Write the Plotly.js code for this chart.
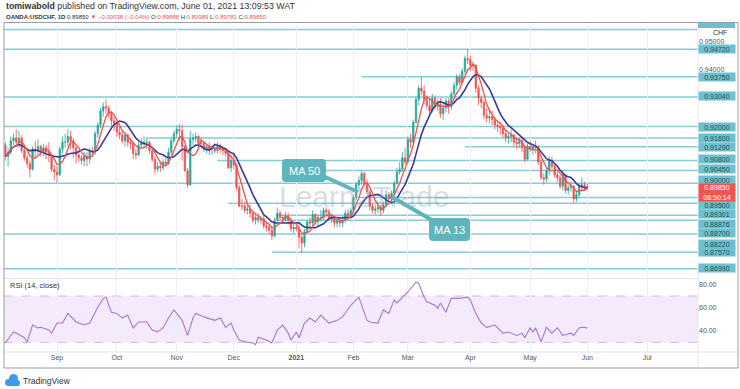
<!DOCTYPE html>
<html><head><meta charset="utf-8">
<script src="https://cdn.plot.ly/plotly-3.0.1.min.js"></script>
<style>html,body{margin:0;padding:0;background:#fff}#chart{width:740px;height:389px}</style>
</head><body><div id="chart"></div>
<script>
// ---------- DATA ----------
const firstDate = '2020-08-05';   // first daily bar (weekdays only)
const firstOpen = 0.9135;
const closes = [
 .9095,.9110,.9150,
 .9160,.9145,.9160,.9115,.9090,
 .9070,.9050,.9120,.9115,.9130,
 .9110,.9125,.9110,.9100,.9050,
 .9040,.9030,.9120,.9145,.9145,
 .9165,.9150,.9125,.9100,.9090,
 .9080,.9095,.9085,.9115,.9110,
 .9175,.9205,.9255,.9270,.9265,
 .9245,.9220,.9210,.9180,.9170,
 .9150,.9170,.9145,.9140,.9105,
 .9100,.9135,.9140,.9145,.9145,
 .9115,.9085,.9050,.9060,.9055,
 .9075,.9070,.9110,.9150,.9175,
 .9190,.9185,.9130,.9045,.8995,
 .9155,.9160,.9165,.9140,.9140,
 .9120,.9130,.9120,.9125,.9115,
 .9130,.9120,.9115,.9105,.9055,
 .9080,.9065,.8985,.8920,.8920,
 .8905,.8910,.8895,.8870,.8880,
 .8870,.8875,.8850,.8845,.8835,
 .8815,.8870,.8895,.8880,.8875,
 .8885,.8870,.8840,.8845,.8840,
 .8810,.8790,.8830,.8865,.8860,
 .8890,.8865,.8880,.8880,.8905,
 .8900,.8880,.8875,.8860,.8870,
 .8860,.8870,.8895,.8885,.8905,
 .8950,.8995,.9010,.9035,.9000,
 .8970,.8920,.8905,.8910,.8915,
 .8905,.8925,.8960,.8945,.8965,
 .9000,.9040,.9050,.9090,.9075,
 .9155,.9145,.9215,.9295,.9335,
 .9325,.9295,.9275,.9255,.9300,
 .9270,.9280,.9245,.9265,.9290,
 .9270,.9315,.9345,.9375,.9355,
 .9395,.9440,.9435,.9415,.9415,
 .9335,.9300,.9285,.9240,.9230,
 .9235,.9225,.9205,.9200,.9195,
 .9175,.9160,.9165,.9170,.9145,
 .9140,.9150,.9125,.9085,.9130,
 .9120,.9130,.9125,.9075,.9020,
 .9015,.9045,.9080,.9060,.9030,
 .9020,.8990,.9030,.8975,.8985,
 .8990,.8945,.8960,.8990,.8995,
 .89888,.89850
];
const highs = [
 .9145,.9125,.9165,
 .9175,.9190,.9185,.9170,.9125,
 .9100,.9080,.9130,.9150,.9155,
 .9135,.9140,.9135,.9145,.9105,
 .9065,.9060,.9130,.9165,.9175,
 .9190,.9185,.9160,.9130,.9115,
 .9100,.9110,.9110,.9125,.9130,
 .9185,.9215,.9265,.9285,.9295,
 .9275,.9255,.9235,.9220,.9200,
 .9185,.9180,.9175,.9160,.9145,
 .9120,.9145,.9160,.9165,.9160,
 .9150,.9125,.9095,.9075,.9080,
 .9085,.9090,.9125,.9160,.9185,
 .9205,.9210,.9207,.9135,.9055,
 .9185,.9175,.9180,.9170,.9160,
 .9150,.9140,.9145,.9135,.9130,
 .9145,.9140,.9130,.9120,.9110,
 .9100,.9110,.9070,.8995,.8945,
 .8935,.8930,.8925,.8900,.8895,
 .8895,.8885,.8890,.8865,.8860,
 .8850,.8880,.8915,.8905,.8890,
 .8900,.8895,.8880,.8860,.8850,
 .8855,.8825,.8840,.8870,.8880,
 .8905,.8895,.8890,.8905,.8915,
 .8915,.8910,.8895,.8885,.8880,
 .8880,.8885,.8905,.8910,.8915,
 .8960,.9005,.9025,.9045,.9040,
 .9015,.8975,.8930,.8925,.8935,
 .8925,.8935,.8975,.8970,.8975,
 .9010,.9055,.9075,.9110,.9125,
 .9165,.9175,.9225,.9305,.9345,
 .9375,.9345,.9310,.9300,.9315,
 .9310,.9295,.9300,.9280,.9300,
 .9300,.9325,.9355,.9385,.9385,
 .9405,.9450,.9473,.9450,.9430,
 .9420,.9345,.9310,.9295,.9265,
 .9255,.9255,.9235,.9215,.9215,
 .9205,.9190,.9180,.9190,.9175,
 .9160,.9160,.9165,.9135,.9140,
 .9150,.9140,.9150,.9135,.9085,
 .9035,.9055,.9095,.9095,.9070,
 .9040,.9030,.9045,.9035,.8995,
 .9005,.8995,.8975,.9000,.9020,
 .9005,.89989
];
const lows = [
 .9080,.9060,.9100,
 .9135,.9130,.9125,.9105,.9080,
 .9055,.9020,.9045,.9090,.9100,
 .9095,.9095,.9085,.9075,.9040,
 .9010,.9000,.9025,.9105,.9125,
 .9130,.9120,.9090,.9070,.9075,
 .9065,.9060,.9060,.9070,.9090,
 .9100,.9160,.9195,.9235,.9245,
 .9230,.9200,.9185,.9165,.9155,
 .9140,.9130,.9130,.9120,.9085,
 .9085,.9095,.9120,.9125,.9120,
 .9105,.9075,.9035,.9040,.9040,
 .9045,.9060,.9065,.9100,.9140,
 .9160,.9150,.9080,.9040,.8985,
 .8990,.9135,.9145,.9125,.9125,
 .9110,.9105,.9100,.9100,.9105,
 .9105,.9105,.9100,.9095,.9050,
 .9040,.9050,.8975,.8915,.8905,
 .8895,.8890,.8880,.8860,.8855,
 .8860,.8855,.8840,.8830,.8820,
 .8800,.8810,.8865,.8870,.8865,
 .8865,.8855,.8830,.8825,.8830,
 .8770,.8757,.8775,.8825,.8840,
 .8850,.8855,.8850,.8865,.8870,
 .8885,.8870,.8860,.8845,.8845,
 .8845,.8845,.8860,.8870,.8875,
 .8895,.8940,.8980,.8995,.8990,
 .8960,.8905,.8895,.8890,.8895,
 .8885,.8895,.8915,.8935,.8935,
 .8955,.8995,.9030,.9040,.9065,
 .9070,.9125,.9140,.9210,.9275,
 .9310,.9280,.9260,.9240,.9250,
 .9260,.9255,.9230,.9225,.9250,
 .9245,.9260,.9300,.9330,.9345,
 .9350,.9385,.9420,.9395,.9395,
 .9320,.9275,.9265,.9225,.9215,
 .9210,.9205,.9190,.9180,.9170,
 .9160,.9145,.9140,.9145,.9130,
 .9120,.9125,.9110,.9075,.9080,
 .9110,.9100,.9105,.9065,.9010,
 .8995,.9005,.9030,.9050,.9020,
 .9005,.8980,.8975,.8965,.8960,
 .8970,.8930,.8935,.8950,.8970,
 .8975,.89781
];
// RSI (14, close): bar index -> value
const rsiIdx = [0,3,4,7,8,10,12,13,16,17,19,21,23,26,29,31,34,36,37,39,41,43,45,47,49,52,54,56,58,60,62,65,67,69,70,73,77,79,81,83,84,86,88,91,92,93,96,98,100,102,104,105,107,108,110,112,114,116,119,122,124,127,130,132,133,134,137,139,141,143,144,148,151,152,154,155,158,159,160,162,164,167,170,171,173,175,177,180,183,185,188,190,191,193,194,195,197,199,201,203,205,208,209,211,212,214];
const rsiVal = [29.5,39,38,34,30.5,45,42.5,43,40.7,38,46.7,46.7,55,47.6,45,46.7,60.5,68,69,56,55,51,53.6,42.5,47.6,47.6,40.7,39,42.5,51,58,49,36,51,55,52,49,51,43,46.7,40.7,32,30.5,29.5,28,34.5,32,29.5,40.7,45,38,32,39,34,46.7,51,47.6,53.6,46.7,49,52,62,69,55,49,47.6,46.7,58,55,66.5,64,73.5,82,81,69,65,62,59.5,64,56,68,68,69,66.5,55,46.7,43,45,38,39,36,38,34,42.5,39,42.5,30.5,43,38,42.5,36,38,36,42.5,43,42.5];
const maFastLen = 5, maSlowLen = 10;
// horizontal support / resistance levels drawn on the chart
const levelPrices = [0.9542,0.9472,0.9375,0.9304,0.9200,0.9160,0.9129,0.9080,0.9045,0.9000,0.8950,0.89301,0.88876,0.8870,0.8822,0.8757,0.8699];
const levelLabels = ['','0.94720','0.93750','0.93040','0.92000','0.91600','0.91290','0.90800','0.90450','0.90000','0.89500','0.89301','0.88876','0.88700','0.88220','0.87570','0.86990'];
const levelStart  = ['2020-08-04','2020-08-04','2021-02-04','2020-08-04','2020-08-04','2020-10-16','2021-03-30','2020-11-23','2020-12-29','2020-08-04','2021-02-03','2020-11-27','2020-12-23','2020-12-23','2020-08-04','2020-12-21','2020-08-04'];
const lastPrice = 0.89850, lastPriceLabel = '0.89850', countdown = '08:50:14';
const monthTicks  = ['2020-09-01','2020-10-01','2020-11-02','2020-12-01','2021-01-01','2021-02-01','2021-03-01','2021-04-01','2021-05-03','2021-06-01','2021-07-01'];
const monthLabels = ['Sep','Oct','Nov','Dec','<b>2021</b>','Feb','Mar','Apr','May','Jun','Jul'];
const priceTicks = [0.94,0.95];
const rsiTicks = [40,60,80];

// ---------- derived ----------
const dates = [];
{ let d = new Date(firstDate+'T00:00:00Z');
  while (dates.length < closes.length) {
    const wd = d.getUTCDay();
    if (wd !== 0 && wd !== 6) dates.push(d.toISOString().slice(0,10));
    d = new Date(d.getTime()+86400000);
  } }
const opens = closes.map((c,i)=> i===0 ? firstOpen : closes[i-1]);
function sma(a,n){ return a.map((_,i)=>{ const s=Math.max(0,i-n+1); let t=0; for(let k=s;k<=i;k++) t+=a[k]; return t/(i-s+1); }); }
const maFast = sma(closes, maFastLen), maSlow = sma(closes, maSlowLen);

// ---------- layout helpers (pixel -> paper) ----------
const W=740,H=389;
const fx = x => x/W, fy = y => 1-y/H;
const P = (x,y) => fx(x).toFixed(5)+' '+fy(y).toFixed(5);
function roundRect(x0,y0,x1,y1,r){
  return `M ${P(x0+r,y0)} L ${P(x1-r,y0)} Q ${P(x1,y0)} ${P(x1,y0+r)} L ${P(x1,y1-r)} Q ${P(x1,y1)} ${P(x1-r,y1)} L ${P(x0+r,y1)} Q ${P(x0,y1)} ${P(x0,y1-r)} L ${P(x0,y0+r)} Q ${P(x0,y0)} ${P(x0+r,y0)} Z`;
}
const xLeft = '2020-08-04 12:00', xRight = '2021-07-27 17:00';
const TEAL_LINE = '#86cbd6', TEAL_BOX = '#6cc0cf', CALL = '#5db5bd';
const RED = '#ef5350', GREEN = '#26a69a';

const traces = [
 {type:'candlestick', x:dates, open:opens, high:highs, low:lows, close:closes,
  increasing:{line:{color:GREEN,width:0.8}, fillcolor:GREEN},
  decreasing:{line:{color:RED,width:0.8}, fillcolor:RED},
  whiskerwidth:0, xaxis:'x', yaxis:'y', hoverinfo:'skip'},
 {type:'scatter', mode:'lines', x:dates, y:maSlow, line:{color:'#3b3b96',width:1.6}, xaxis:'x', yaxis:'y', hoverinfo:'skip'},
 {type:'scatter', mode:'lines', x:dates, y:maFast, line:{color:'#f0524c',width:1.3}, xaxis:'x', yaxis:'y', hoverinfo:'skip'},
 {type:'scatter', mode:'lines', x:rsiIdx.map(i=>dates[i]), y:rsiVal, line:{color:'#a877cc',width:1.1}, xaxis:'x', yaxis:'y2', hoverinfo:'skip'}
];

const shapes = [];
// RSI band + dashed bounds
shapes.push({type:'rect', xref:'paper', yref:'y2', x0:fx(4), x1:fx(698), y0:30, y1:70, fillcolor:'#f5eafc', line:{width:0}, layer:'below'});
[70,30].forEach(v=>shapes.push({type:'line', xref:'paper', yref:'y2', x0:fx(4), x1:fx(698), y0:v, y1:v, line:{color:'#d2b9e4',width:1,dash:'dash'}, layer:'below'}));
// level lines
levelPrices.forEach((p,i)=>shapes.push({type:'line', xref:'x', yref:'y', x0:levelStart[i], x1:xRight, y0:p, y1:p, line:{color:TEAL_LINE,width:1.5}, layer:'below'}));
// frame & separators
shapes.push({type:'line', xref:'paper', yref:'paper', x0:fx(4), x1:fx(698), y0:fy(278.5), y1:fy(278.5), line:{color:'#e0e3eb',width:1}});
shapes.push({type:'line', xref:'paper', yref:'paper', x0:fx(4), x1:fx(738), y0:fy(352), y1:fy(352), line:{color:'#e0e3eb',width:1}});
shapes.push({type:'line', xref:'paper', yref:'paper', x0:fx(698), x1:fx(698), y0:fy(22), y1:fy(368), line:{color:'#e6e8ee',width:1}});
shapes.push({type:'rect', xref:'paper', yref:'paper', x0:fx(4), x1:fx(738), y0:fy(22.5), y1:fy(368), line:{color:'#9a9da6',width:1}});
// clipped label box at the very top of the price scale
shapes.push({type:'rect', xref:'paper', yref:'paper', x0:fx(698), x1:fx(735), y0:fy(23), y1:fy(28), fillcolor:TEAL_BOX, line:{width:0}});
// call-outs
shapes.push({type:'line', xref:'paper', yref:'paper', x0:fx(321), y0:fy(175), x1:fx(358), y1:fy(192), line:{color:CALL,width:4}});
shapes.push({type:'line', xref:'paper', yref:'paper', x0:fx(392), y0:fy(197), x1:fx(437), y1:fy(223), line:{color:CALL,width:4}});
shapes.push({type:'path', xref:'paper', yref:'paper', path:roundRect(282,159,326,182,4), fillcolor:CALL, line:{width:0}});
shapes.push({type:'path', xref:'paper', yref:'paper', path:roundRect(429,218,470,241,4), fillcolor:CALL, line:{width:0}});
// TradingView logo (cloud)
shapes.push({type:'circle', xref:'paper', yref:'paper', x0:fx(5), x1:fx(12), y0:fy(379), y1:fy(386), fillcolor:'#3d9be9', line:{width:0}});
shapes.push({type:'circle', xref:'paper', yref:'paper', x0:fx(9), x1:fx(18), y0:fy(374), y1:fy(383), fillcolor:'#3d9be9', line:{width:0}});
shapes.push({type:'path', xref:'paper', yref:'paper', path:roundRect(8,380,20,386,2.5), fillcolor:'#3d9be9', line:{width:0}});

const ann = [];
const hdrFont = {family:'Liberation Sans, Arial, sans-serif', size:8.8, color:'#333'};
ann.push({xref:'paper', yref:'paper', x:fx(4), y:fy(6), xanchor:'left', yanchor:'middle', showarrow:false, font:hdrFont,
  text:'<b>tomiwabold</b> published on TradingView.com, June 01, 2021 13:09:53 WAT'});
ann.push({xref:'paper', yref:'paper', x:fx(4), y:fy(16.5), xanchor:'left', yanchor:'middle', showarrow:false, font:{...hdrFont, size:6},
  text:'<b>OANDA:USDCHF, 1D</b> 0.89850 <span style="color:#ef5350">▼ −0.00038 (−0.04%)</span> O:<span style="color:#ef5350">0.89888</span> H:<span style="color:#ef5350">0.89989</span> L:<span style="color:#ef5350">0.89781</span> C:<span style="color:#ef5350">0.89850</span>'});
// price-scale level labels (some pushed apart like on the original scale)
const labelShift = [0,0,0,1,0,0,0,1.5,1.3,3.4,-7.5,-10.8,-9,-13,-9.8,0,1];
levelPrices.forEach((p,i)=>{ if(!levelLabels[i]) return;
  ann.push({xref:'paper', yref:'y', x:fx(716.5), y:p, yshift:labelShift[i], xanchor:'center', yanchor:'middle', showarrow:false,
    text:levelLabels[i], bgcolor:TEAL_BOX, width:36, height:8, borderpad:0, font:{size:7, color:'#24525e'}});
});
ann.push({xref:'paper', yref:'y', x:fx(716.5), y:lastPrice, yshift:-5.2, xanchor:'center', yanchor:'middle', showarrow:false,
  text:lastPriceLabel+'<br>'+countdown, bgcolor:'#f0554f', width:36, height:17, borderpad:0, font:{size:7, color:'#fff'}});
ann.push({xref:'paper', yref:'paper', x:fx(720), y:fy(32.5), xanchor:'center', yanchor:'middle', showarrow:false, text:'CHF', font:{size:7,color:'#333'}});
ann.push({xref:'paper', yref:'paper', x:fx(8), y:fy(285), xanchor:'left', yanchor:'middle', showarrow:false, text:'RSI (14, close)', font:{size:7.5,color:'#333'}});
ann.push({xref:'paper', yref:'paper', x:fx(304), y:fy(170.5), xanchor:'center', yanchor:'middle', showarrow:false, text:'MA 50', font:{size:11,color:'#fff'}});
ann.push({xref:'paper', yref:'paper', x:fx(449.5), y:fy(229.5), xanchor:'center', yanchor:'middle', showarrow:false, text:'MA 13', font:{size:11,color:'#fff'}});
ann.push({xref:'paper', yref:'paper', x:fx(364), y:fy(196), xanchor:'center', yanchor:'middle', showarrow:false, text:'Learn2Trade', font:{size:30,color:'rgba(150,156,168,0.36)'}});
ann.push({xref:'paper', yref:'paper', x:fx(21), y:fy(380.5), xanchor:'left', yanchor:'middle', showarrow:false, text:'TradingView', font:{size:8.5,color:'#333'}});

const layout = {
  width:W, height:H, margin:{l:0,r:0,t:0,b:0}, paper_bgcolor:'#fff', plot_bgcolor:'#fff', showlegend:false,
  font:{family:'Liberation Sans, Arial, sans-serif', size:7, color:'#555'},
  xaxis:{type:'date', domain:[fx(4),fx(698)], range:[xLeft,xRight], rangebreaks:[{bounds:['sat','mon']}], anchor:'y2',
    tickmode:'array', tickvals:monthTicks, ticktext:monthLabels, showgrid:true, gridcolor:'#eef0f4', gridwidth:1,
    ticks:'', showline:false, zeroline:false, rangeslider:{visible:false}, tickfont:{size:7,color:'#555'}},
  yaxis:{domain:[fy(278),fy(23)], range:[0.86667,0.95646], side:'right', anchor:'x', tickmode:'array', tickvals:priceTicks,
    tickformat:'.5f', showgrid:false, zeroline:false, ticks:'', showline:false, tickfont:{size:7,color:'#555'}},
  yaxis2:{domain:[fy(352),fy(279)], range:[21.7,84.7], side:'right', anchor:'x', tickmode:'array', tickvals:rsiTicks,
    tickformat:'.2f', showgrid:false, zeroline:false, ticks:'', showline:false, tickfont:{size:7,color:'#555'}},
  shapes:shapes, annotations:ann
};
Plotly.newPlot('chart', traces, layout, {displayModeBar:false, staticPlot:true});
</script></body></html>
